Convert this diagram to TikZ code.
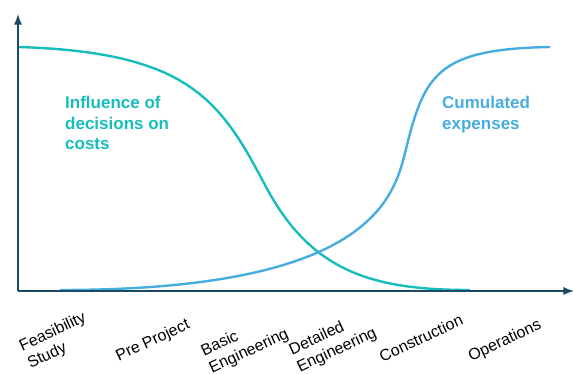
\documentclass[tikz,border=0pt]{standalone}
\usepackage{fontspec}
\setmainfont{Liberation Sans}
\definecolor{axisblue}{HTML}{1B4A66}
\definecolor{tealcurve}{HTML}{17BDBD}
\definecolor{bluecurve}{HTML}{46ADE0}
\begin{document}
\begin{tikzpicture}[x=1pt,y=-1pt,
axis/.style = {draw=axisblue, line width=2.6pt, -latex},
curve/.style = {line width=2.4pt},
phase/.style = {rotate=25, align=left, inner sep=0pt,
	font=\fontsize{16}{19}\selectfont},
caption/.style = {align=left, anchor=north west, inner sep=0pt,
	font=\fontsize{17}{20.5}\selectfont\bfseries}]

\useasboundingbox (0,0) rectangle (573,374);

\coordinate (origin) at (18,291);
\coordinate (ytop) at (18,14);
\coordinate (xend) at (574,291);

% curves
\draw[curve, tealcurve] (18,47) .. controls (188,52) and (220,99.5) .. (265,185)
	.. controls (310,270.5) and (370,290) .. (470,290);
\draw[curve, bluecurve] (60,290) .. controls (380,290) and (395,193) .. (407,145)
	.. controls (425,73) and (440,49) .. (550,47);

% axes
\draw[axis] (origin) -- (ytop);
\draw[axis] (origin) -- (xend);

\node[caption, text=tealcurve] (influence) at (65,96) {Influence of\\decisions on\\costs};
\node[caption, text=bluecurve] (expenses) at (442,96) {Cumulated\\expenses};

\node[phase] (feasibility) at (57,341) {Feasibility\\Study};
\node[phase] (preproject) at (153,341) {Pre Project};
\node[phase] (basic) at (245,343) {Basic\\Engineering};
\node[phase] (detailed) at (333,342) {Detailed\\Engineering};
\node[phase] (construction) at (421,338) {Construction};
\node[phase] (operations) at (505,341) {Operations};
\end{tikzpicture}
\end{document}
